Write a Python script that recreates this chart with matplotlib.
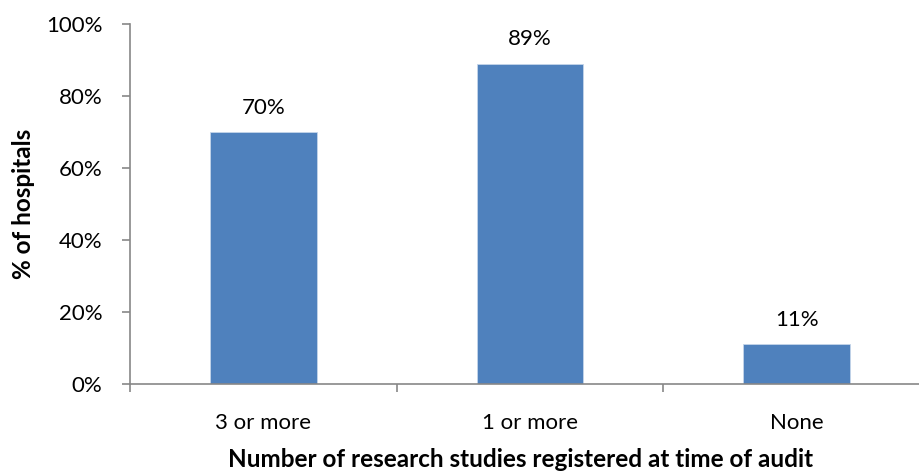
import matplotlib
matplotlib.use("Agg")
import matplotlib.pyplot as plt
from matplotlib.ticker import FixedLocator

categories = ["3 or more", "1 or more", "None"]
values = [70, 89, 11]
yticks = [0, 20, 40, 60, 80, 100]

plt.rcParams['font.family'] = ['Lato', 'DejaVu Sans']

fig = plt.figure(figsize=(9.19, 4.74), dpi=100)
# plot area runs past the right edge of the picture, as in the original
ax = fig.add_axes([130/919, 1 - 384/474, 800/919, (384 - 24)/474])

x = range(len(categories))
bars = ax.bar(x, values, width=0.4, color="#4F81BD", edgecolor="#C5D5EA", linewidth=0.6)
for b, v in zip(bars, values):
    ax.text(b.get_x() + b.get_width()/2, v + 4, f"{v}%", ha="center", va="bottom", fontsize=16)

ax.set_xlim(-0.5, len(categories) - 0.5)
ax.set_ylim(0, 100)
ax.set_yticks(yticks)
ax.set_yticklabels([f"{t}%" for t in yticks], fontsize=16)
ax.set_xticks(list(x))
ax.set_xticklabels(categories, fontsize=16)
ax.tick_params(axis="x", length=0, pad=21)
ax.xaxis.set_minor_locator(FixedLocator([i - 0.5 for i in range(len(categories) + 1)]))
ax.tick_params(axis="x", which="minor", length=6, color="#878787", width=1.2)
ax.tick_params(axis="y", length=6, color="#878787", width=1.2, pad=14)

for s in ["top", "right"]:
    ax.spines[s].set_visible(False)
for s in ["left", "bottom"]:
    ax.spines[s].set_color("#878787")
    ax.spines[s].set_linewidth(1.2)

ax.set_xlabel("Number of research studies registered at time of audit", fontsize=17.5, fontweight="bold")
ax.set_ylabel("% of hospitals", fontsize=17.5, fontweight="bold", labelpad=8)
ax.xaxis.set_label_coords(391/800, -0.178)

fig.savefig("out.png", dpi=100)
